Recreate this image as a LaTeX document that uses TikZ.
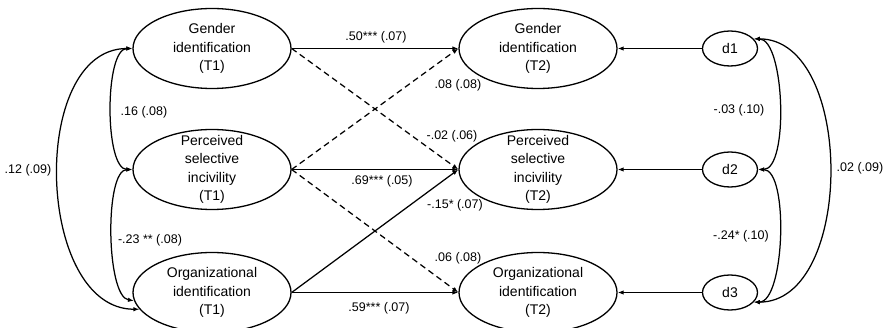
\documentclass[tikz,border=0pt]{standalone}
\usepackage{fontspec}
\setmainfont{Liberation Sans}
\usetikzlibrary{arrows.meta,shapes.geometric}
\begin{document}
\begin{tikzpicture}[x=1pt,y=-1pt,
  bigshape/.style={ellipse,draw,line width=1.3pt,minimum width=158pt,minimum height=80pt,inner sep=0pt},
  smallshape/.style={ellipse,draw,line width=1.3pt,minimum width=55pt,minimum height=35pt,inner sep=0pt,font=\fontsize{14}{17}\selectfont},
  bigtext/.style={align=center,inner sep=0pt,font=\fontsize{14}{18.5}\selectfont},
  lab/.style={inner sep=1pt,font=\fontsize{12.5}{15}\selectfont},
  arr/.style={line width=1.25pt,-{Latex[length=6pt,width=4.5pt]}},
  dasharr/.style={arr,dash pattern=on 6pt off 4pt},
  cov/.style={line width=1.25pt,{Latex[length=6pt,width=4.5pt]}-{Latex[length=6pt,width=4.5pt]}}
]
\useasboundingbox (0,0) rectangle (886,328);
% T1 nodes
\node[bigshape] (g1) at (212,48.5) {};
\node[bigtext] (g1t) at (g1) {Gender\\identification\\(T1)};
\node[bigshape] (p1) at (212,169.5) {};
\node[bigtext] (p1t) at (p1) {Perceived\\selective\\incivility\\(T1)};
\node[bigshape] (o1) at (212,292.5) {};
\node[bigtext] (o1t) at (o1) {Organizational\\identification\\(T1)};
% T2 nodes
\node[bigshape] (g2) at (538,48.5) {};
\node[bigtext] (g2t) at (g2) {Gender\\identification\\(T2)};
\node[bigshape] (p2) at (538,169.5) {};
\node[bigtext] (p2t) at (p2) {Perceived\\selective\\incivility\\(T2)};
\node[bigshape] (o2) at (538,292.5) {};
\node[bigtext] (o2t) at (o2) {Organizational\\identification\\(T2)};
% disturbances
\node[smallshape] (d1) at (730,48.5) {d1};
\node[smallshape] (d2) at (730,169.5) {d2};
\node[smallshape] (d3) at (730,292.5) {d3};
% paths
\draw[arr] (g1.east) -- (g2.west);
\draw[dasharr] (g1.east) -- (p2.west);
\draw[dasharr] (p1.east) -- (g2.west);
\draw[arr] (p1.east) -- (p2.west);
\draw[dasharr] (p1.east) -- (o2.west);
\draw[arr] (o1.east) -- (p2.west);
\draw[arr] (o1.east) -- (o2.west);
\draw[arr] (d1.west) -- (g2.east);
\draw[arr] (d2.west) -- (p2.east);
\draw[arr] (d3.west) -- (o2.east);
% covariances left
\draw[cov] (g1.west) .. controls +(-28,0) and +(-28,0) .. (p1.west);
\draw[cov] (p1.west) .. controls +(-28,0) and +(-28,-4) .. (o1.186);
\draw[cov] (g1.west) .. controls +(-104,0) and +(-104,0) .. (o1.193);
% covariances right
\draw[cov] (d1.22) .. controls +(31,0) and +(31,0) .. (d2.east);
\draw[cov] (d2.east) .. controls +(31,0) and +(31,0) .. (d3.-22);
\draw[cov] (d1.22) .. controls +(101,0) and +(101,0) .. (d3.-22);
% labels
\node[lab] (l1) at (376,37) {.50*** (.07)};
\node[lab] (l2) at (458,85) {.08 (.08)};
\node[lab] (l3) at (452,136) {-.02 (.06)};
\node[lab] (l4) at (382,181) {.69*** (.05)};
\node[lab] (l5) at (455,205) {-.15* (.07)};
\node[lab] (l6) at (458,258) {.06 (.08)};
\node[lab] (l7) at (379,308) {.59*** (.07)};
\node[lab] (l8) at (144,112) {.16 (.08)};
\node[lab] (l9) at (150,240) {-.23 ** (.08)};
\node[lab] (l10) at (28,170) {.12 (.09)};
\node[lab] (l11) at (739,110) {-.03 (.10)};
\node[lab] (l12) at (741,236) {-.24* (.10)};
\node[lab] (l13) at (860,168) {.02 (.09)};
\end{tikzpicture}
\end{document}
